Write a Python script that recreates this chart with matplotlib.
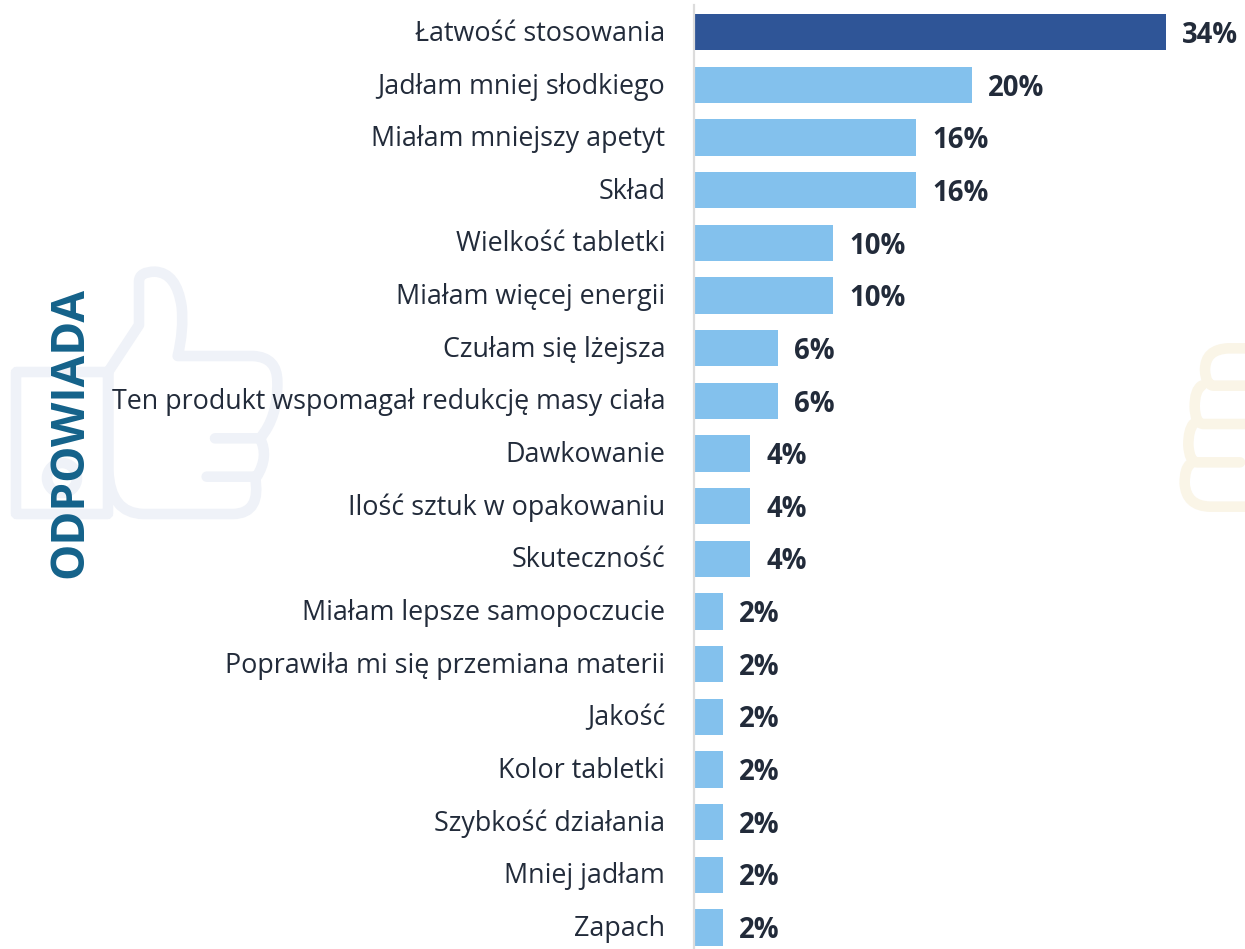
import matplotlib
matplotlib.use("Agg")
import matplotlib.pyplot as plt
from matplotlib.patches import Circle, FancyBboxPatch, PathPatch
from matplotlib.path import Path

labels = [
    "Łatwość stosowania", "Jadłam mniej słodkiego", "Miałam mniejszy apetyt", "Skład",
    "Wielkość tabletki", "Miałam więcej energii", "Czułam się lżejsza",
    "Ten produkt wspomagał redukcję masy ciała", "Dawkowanie", "Ilość sztuk w opakowaniu",
    "Skuteczność", "Miałam lepsze samopoczucie", "Poprawiła mi się przemiana materii",
    "Jakość", "Kolor tabletki", "Szybkość działania", "Mniej jadłam", "Zapach",
]
values = [34, 20, 16, 16, 10, 10, 6, 6, 4, 4, 4, 2, 2, 2, 2, 2, 2, 2]

plt.rcParams["font.family"] = ["Open Sans", "DejaVu Sans"]

W, H = 1245, 949
ROW = 52.65
Y0 = 32.3
X0 = 695
PER_PCT = 13.84


def stroke(ax, x0, y0, color, start, *segments):
    # outline given in coordinates of the 3x crops, 2 numbers = line, 4 = curve
    verts = [start]
    codes = [Path.MOVETO]
    for seg in segments:
        if len(seg) == 2:
            verts.append(seg)
            codes.append(Path.LINETO)
        else:
            verts += [seg[:2], seg[2:]]
            codes += [Path.CURVE3, Path.CURVE3]
    verts = [(x0 + x / 3, y0 + y / 3) for x, y in verts]
    ax.add_patch(PathPatch(Path(verts, codes), fill=False, ec=color, lw=7.6,
                           capstyle="round", joinstyle="round"))


fig = plt.figure(figsize=(W / 100, H / 100), dpi=100, facecolor="white")

# decorations in pixel coords
bg = fig.add_axes([0, 0, 1, 1])
bg.set_xlim(0, W)
bg.set_ylim(H, 0)
bg.axis("off")

thumb = "#eff2f8"
bg.add_patch(FancyBboxPatch((16, 372), 92, 142, boxstyle="round,pad=0,rounding_size=1",
                            fill=False, ec=thumb, lw=7.6))
bg.add_patch(Circle((62, 478), 15, fill=False, ec=thumb, lw=7.6))
stroke(bg, 0, 250, thumb, (325, 365),
       (417, 225), (417, 95), (417, 65, 465, 65), (530, 68, 545, 170), (552, 240, 533, 318),
       (760, 318), (832, 322, 832, 395), (835, 500, 780, 565), (645, 565))
stroke(bg, 0, 250, thumb, (780, 565), (808, 620, 770, 680), (620, 680))
stroke(bg, 0, 250, thumb, (765, 680), (785, 790, 700, 792), (430, 792),
       (330, 790, 325, 660), (325, 365))

cream = "#faf5e7"
stroke(bg, 1100, 320, cream, (445, 85), (385, 85), (315, 88, 315, 150), (317, 195, 340, 197), (445, 197))
stroke(bg, 1100, 320, cream, (305, 197), (284, 210, 284, 260), (285, 310, 310, 312), (445, 312))
stroke(bg, 1100, 320, cream, (280, 312), (265, 330, 265, 375), (268, 425, 290, 427), (420, 427))
stroke(bg, 1100, 320, cream, (270, 433), (254, 445, 254, 490), (258, 558, 330, 560), (445, 560))

# main axes
ax = fig.add_axes([0, 0, 1, 1])
ax.patch.set_alpha(0)
ax.set_xlim(-X0 / PER_PCT, (W - X0) / PER_PCT)
ax.set_ylim((H - Y0) / ROW, -Y0 / ROW)
ax.axis("off")

ys = list(range(len(values)))
colors = ["#2f5597"] + ["#83c1ed"] * (len(values) - 1)
ax.barh(ys, values, height=0.69, color=colors, linewidth=0)
ax.axvline(-0.05, ymin=0, ymax=0.995, color="#dcdcdc", lw=1.6, zorder=3)

for y, label, value in zip(ys, labels, values):
    ax.text(-2.15, y + 0.03, label, ha="right", va="center", fontsize=19.4, color="#222b3a")
    ax.text(value + 1.15, y + 0.06, f"{value}%", ha="left", va="center",
            fontsize=19.8, fontweight="bold", color="#222b3a")

ax.text(-X0 / PER_PCT + 70 / PER_PCT, (433 - Y0) / ROW, "ODPOWIADA", rotation=90,
        ha="center", va="center", fontsize=33, fontweight="bold", color="#14628a")

fig.savefig("out.png", dpi=100, facecolor="white")
